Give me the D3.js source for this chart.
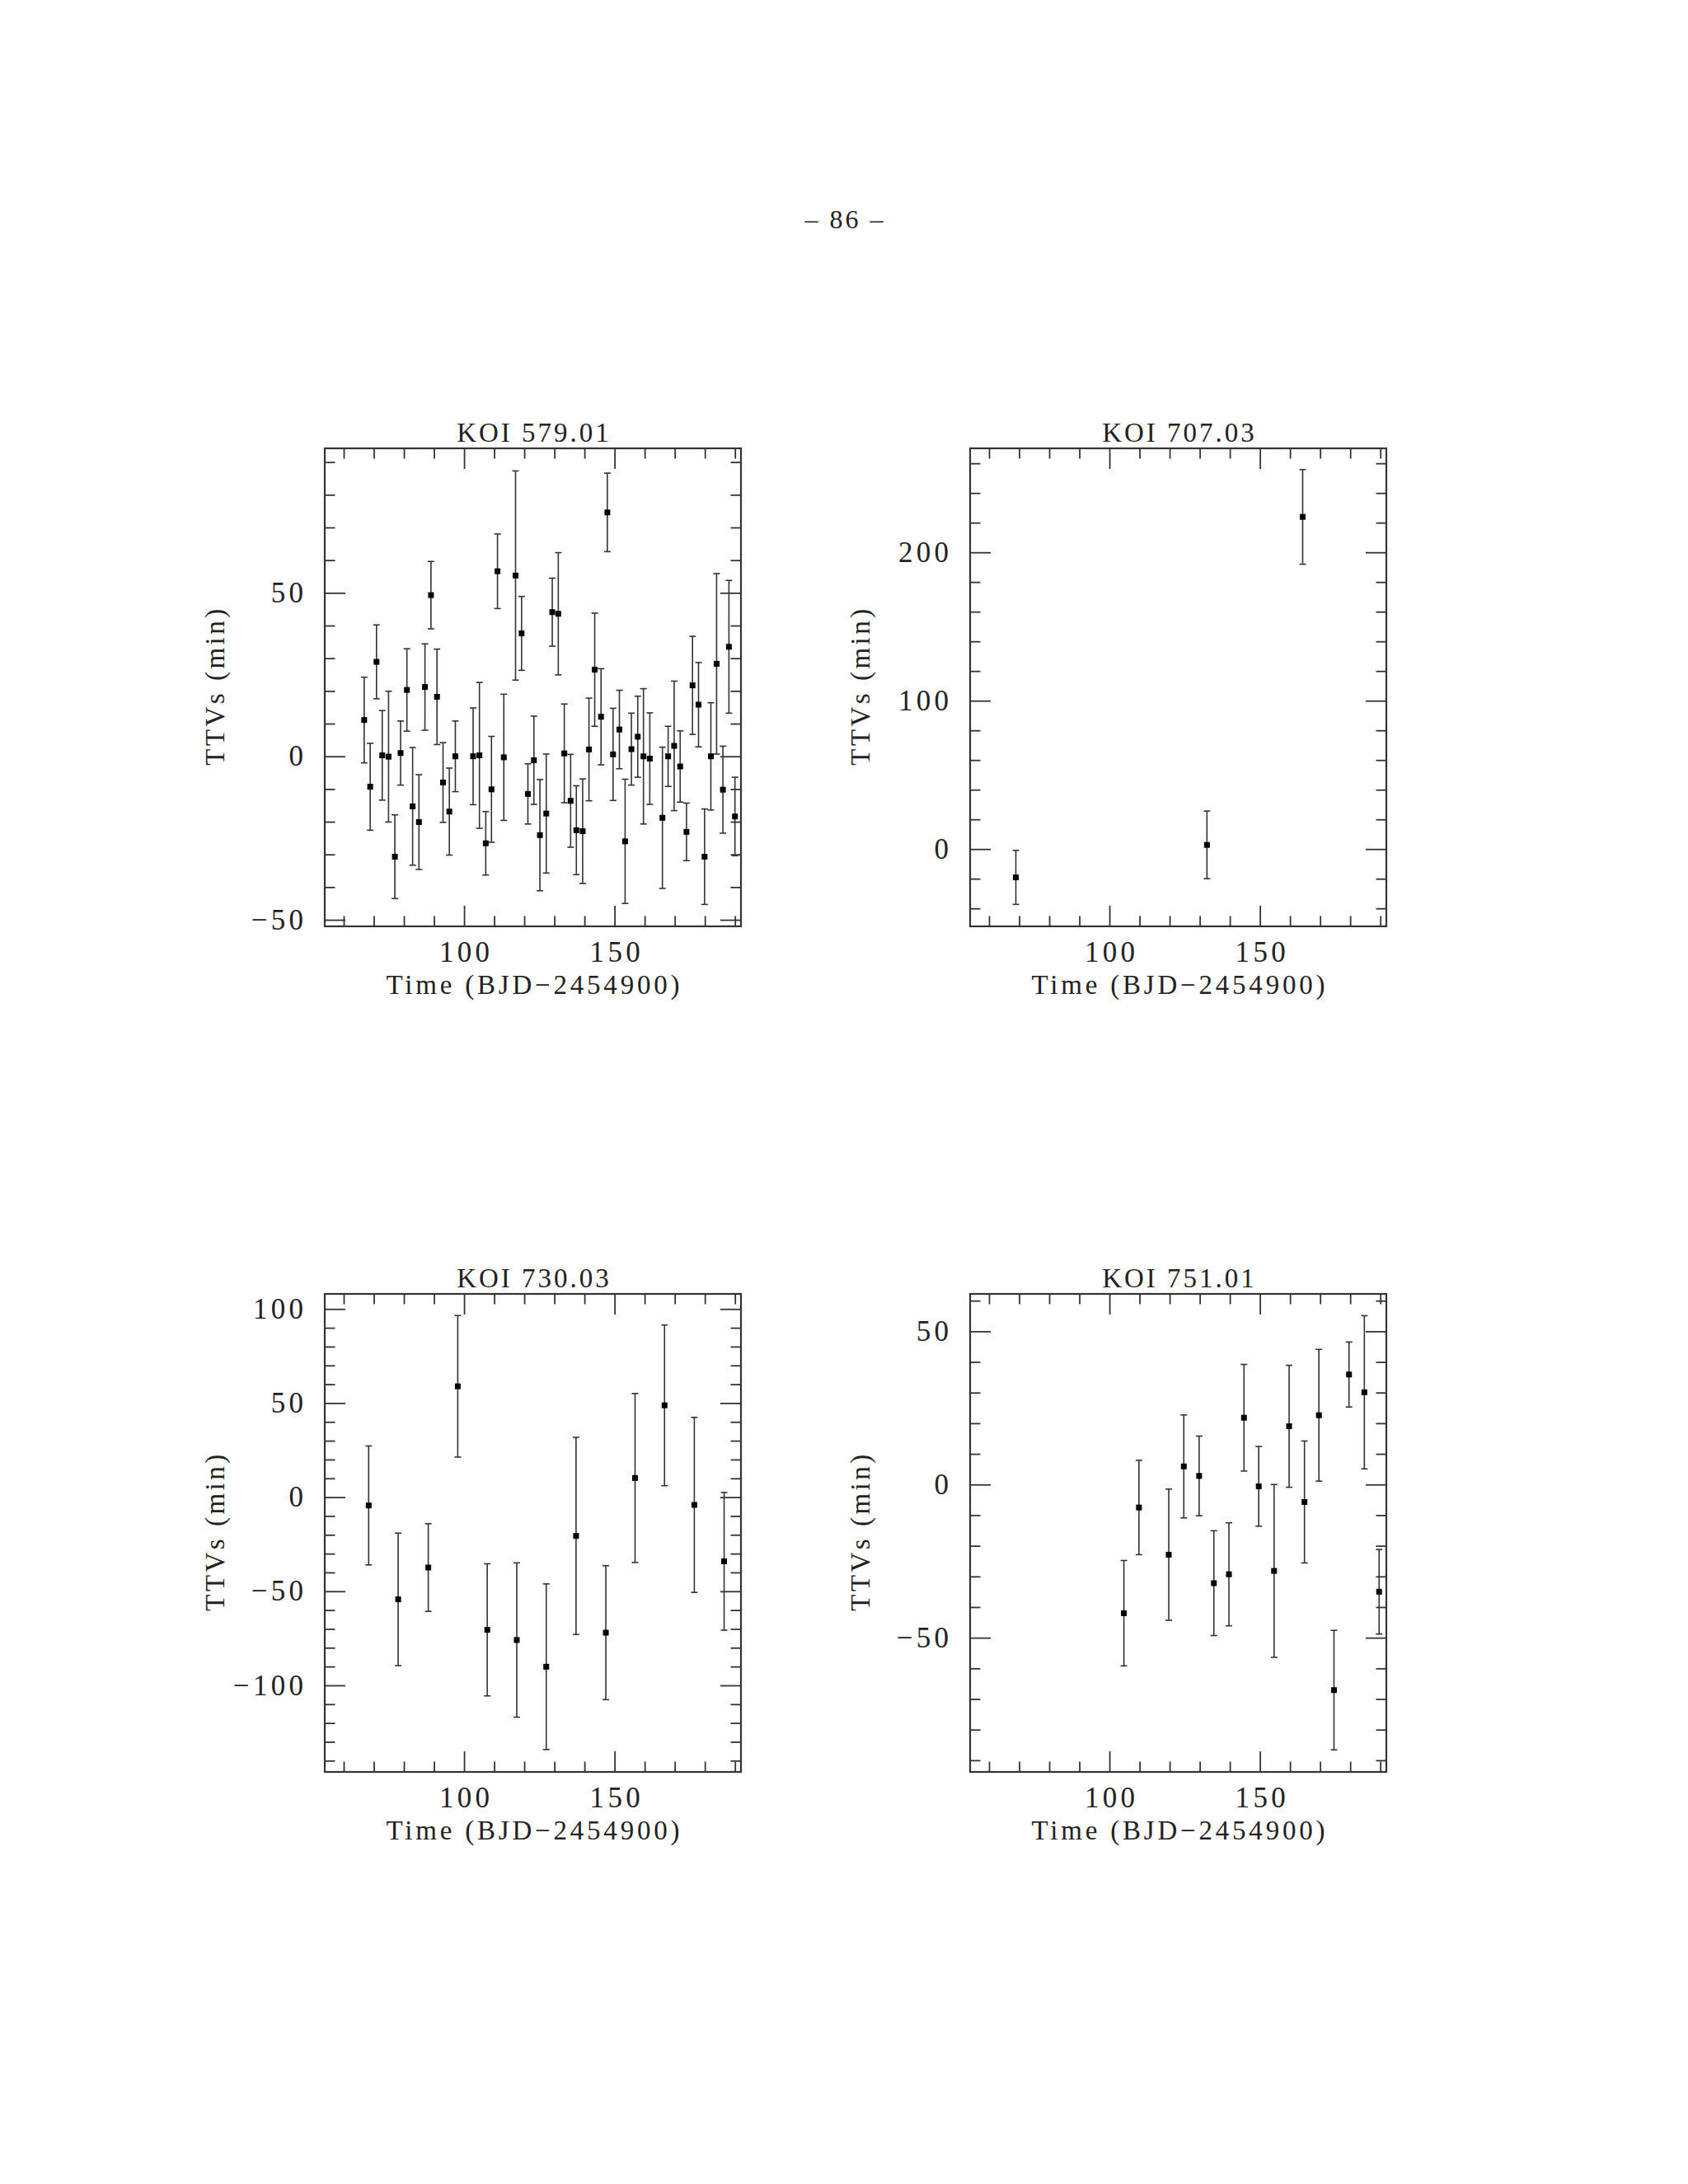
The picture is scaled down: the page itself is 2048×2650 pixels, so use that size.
<!DOCTYPE html>
<html>
<head>
<meta charset="utf-8">
<script src="https://cdn.jsdelivr.net/npm/d3@7"></script>
<style>
  body { margin: 0; background: #fff; }
  svg text { font-family: "Liberation Serif", serif; fill: #222; }
</style>
</head>
<body>
<div id="page"></div>
<script>
// KOI 579.01
const t579 = [66.8, 68.8, 70.9, 72.8, 74.9, 77.0, 78.9, 81.0, 82.9, 85.0, 87.0, 89.0, 91.0, 93.0, 95.1, 97.1,
  103.0, 105.1, 107.2, 109.1, 111.1, 113.2, 117.1, 119.1, 121.2, 123.2, 125.2, 127.3, 129.3, 131.3, 133.3,
  135.4, 137.3, 139.4, 141.5, 143.4, 145.5, 147.6, 149.5, 151.6, 153.5, 155.6, 157.7, 159.6, 161.7, 165.9,
  167.8, 169.8, 171.8, 173.9, 175.9, 177.9, 179.9, 182.0, 183.9, 186.0, 188.0, 190.0];
const ttv579 = [11.1, -9.3, 28.9, 0.3, -0.1, -30.7, 1.0, 20.3, -15.3, -20.1, 21.2, 49.3, 18.2, -8.0, -16.9, 0.0,
  0.0, 0.3, -26.6, -10.1, 56.6, -0.3, 55.3, 37.6, -11.5, -1.2, -24.1, -17.5, 44.1, 43.6, 0.9,
  -13.6, -22.6, -22.9, 2.1, 26.5, 12.1, 74.6, 0.6, 8.2, -26.0, 2.2, 6.0, 0.0, -0.7, -18.8,
  0.0, 3.2, -3.1, -23.1, 21.7, 15.8, -30.7, 0.0, 28.3, -10.2, 33.5, -18.4];
const err579 = [13.1, 13.3, 11.3, 13.7, 20.0, 12.8, 9.8, 12.6, 18.0, 14.5, 13.2, 10.3, 14.6, 12.2, 13.3, 10.8,
  14.8, 22.3, 9.7, 16.2, 11.4, 19.3, 32.0, 11.3, 9.2, 13.5, 17.0, 18.2, 10.4, 18.7, 15.1,
  14.2, 13.6, 16.0, 15.7, 17.3, 14.7, 12.0, 14.1, 12.0, 19.0, 11.0, 12.4, 20.7, 14.0, 21.6,
  9.2, 19.8, 10.9, 8.8, 15.0, 12.9, 14.6, 16.4, 27.6, 13.3, 20.3, 12.0];

// KOI 707.03
const t707 = [68.9, 132.4, 164.2];
const ttv707 = [-19.1, 2.8, 223.9];
const err707 = [18.2, 22.8, 31.9];

// KOI 730.03
const t730 = [68.3, 78.1, 88.1, 97.9, 107.7, 117.5, 127.3, 137.2, 147.1, 156.8, 166.6, 176.5, 186.4];
const ttv730 = [-4.4, -54.3, -37.4, 58.9, -70.5, -75.9, -90.1, -20.6, -72.0, 10.2, 48.8, -4.1, -34.1];
const err730 = [31.6, 35.2, 23.3, 37.6, 35.1, 41.0, 44.0, 52.4, 35.6, 44.9, 42.7, 46.5, 36.6];

// KOI 751.01
const t751 = [104.8, 109.8, 119.7, 124.7, 129.8, 134.7, 139.7, 144.7, 149.6, 154.7, 159.7, 164.8, 169.6,
  174.6, 179.6, 184.7, 189.6];
const ttv751 = [-42.0, -7.5, -22.9, 5.9, 2.8, -32.2, -29.3, 21.8, -0.6, -28.2, 19.0, -5.7, 22.6,
  -67.1, 35.9, 30.1, -35.0];
const err751 = [17.2, 15.4, 21.4, 16.8, 13.0, 17.1, 16.8, 17.4, 13.0, 28.2, 19.9, 19.9, 21.5,
  19.5, 10.6, 25.0, 13.8];

// tick labels
const xTickLabels = [100, 150];
const yTicks579 = [-50, 0, 50];
const yTicks707 = [0, 100, 200];
const yTicks730 = [-100, -50, 0, 50, 100];
const yTicks751 = [-50, 0, 50];

const titles = ["KOI 579.01", "KOI 707.03", "KOI 730.03", "KOI 751.01"];

const W = 2048, H = 2650;
const pw = 505, ph = 580;
const xDomain = [53.7, 192];
const majorLen = 25, minorLen = 12.5;
const tickFont = 35, tickSpacing = 4.3;
const labelFont = 33, labelSpacing = 3.8;

const svg = d3.select("#page").append("svg")
  .attr("width", W)
  .attr("height", H);

svg.append("rect").attr("width", W).attr("height", H).attr("fill", "#fff");

// page number
svg.append("text")
  .attr("x", 1024 + 1.5)
  .attr("y", 277)
  .attr("text-anchor", "middle")
  .style("font-size", "32px")
  .style("letter-spacing", "3px")
  .text("\u2013 86 \u2013");

const panels = [
  { x: 394, y: 544, t: t579, v: ttv579, e: err579, yDom: [-52, 94.2], yMajor: yTicks579, yStep: 10 },
  { x: 1177, y: 544, t: t707, v: ttv707, e: err707, yDom: [-52.1, 270.1], yMajor: yTicks707, yStep: 20 },
  { x: 394, y: 1570, t: t730, v: ttv730, e: err730, yDom: [-146, 108], yMajor: yTicks730, yStep: 10 },
  { x: 1177, y: 1570, t: t751, v: ttv751, e: err751, yDom: [-93.8, 62.2], yMajor: yTicks751, yStep: 10 }
];

panels.forEach(function (p, i) {
  const g = svg.append("g").attr("transform", "translate(" + p.x + "," + p.y + ")");

  const xScale = d3.scaleLinear().domain(xDomain).range([0, pw]);
  const yScale = d3.scaleLinear().domain(p.yDom).range([ph, 0]);

  const xMinor = d3.range(60, 200, 10).filter(d => xTickLabels.indexOf(d) < 0);
  const yMinor = d3.range(Math.ceil(p.yDom[0] / p.yStep) * p.yStep, p.yDom[1], p.yStep)
    .filter(d => p.yMajor.indexOf(d) < 0);

  function tickAxis(axis, scale, vals, len, tr, labels) {
    const a = axis(scale).tickValues(vals).tickSizeInner(-len).tickSizeOuter(0);
    if (labels) a.tickFormat(d3.format("d")); else a.tickFormat("");
    const ax = g.append("g").attr("transform", tr).call(a);
    ax.select(".domain").remove();
    ax.selectAll("line").attr("stroke", "#333").attr("stroke-width", 1.8);
    ax.selectAll("text")
      .style("font-family", "'Liberation Serif', serif")
      .style("font-size", tickFont + "px")
      .style("letter-spacing", tickSpacing + "px")
      .attr("fill", "#222");
    return ax;
  }

  // minor ticks
  tickAxis(d3.axisBottom, xScale, xMinor, minorLen, "translate(0," + ph + ")", false);
  tickAxis(d3.axisTop, xScale, xMinor, minorLen, "translate(0,0)", false);
  tickAxis(d3.axisLeft, yScale, yMinor, minorLen, "translate(0,0)", false);
  tickAxis(d3.axisRight, yScale, yMinor, minorLen, "translate(" + pw + ",0)", false);

  // major ticks
  tickAxis(d3.axisBottom, xScale, xTickLabels, majorLen, "translate(0," + ph + ")", true)
    .call(a => a.selectAll("text").attr("y", 43).attr("dy", null).attr("x", tickSpacing / 2));
  tickAxis(d3.axisTop, xScale, xTickLabels, majorLen, "translate(0,0)", false);
  tickAxis(d3.axisLeft, yScale, p.yMajor, majorLen, "translate(0,0)", true)
    .call(a => a.selectAll("text").attr("x", -26 + tickSpacing));
  tickAxis(d3.axisRight, yScale, p.yMajor, majorLen, "translate(" + pw + ",0)", false);

  // frame
  g.append("rect")
    .attr("width", pw)
    .attr("height", ph)
    .attr("fill", "none")
    .attr("stroke", "#333")
    .attr("stroke-width", 2.2);

  // error bars
  const pts = p.t.map((d, k) => ({ t: d, v: p.v[k], e: p.e[k] }));
  const bars = g.append("g").attr("stroke", "#333").attr("stroke-width", 1.6);
  bars.selectAll(".eb").data(pts).enter().append("line")
    .attr("x1", d => xScale(d.t)).attr("x2", d => xScale(d.t))
    .attr("y1", d => yScale(d.v - d.e)).attr("y2", d => yScale(d.v + d.e));
  bars.selectAll(".cap-top").data(pts).enter().append("line")
    .attr("x1", d => xScale(d.t) - 4).attr("x2", d => xScale(d.t) + 4)
    .attr("y1", d => yScale(d.v + d.e)).attr("y2", d => yScale(d.v + d.e));
  bars.selectAll(".cap-bot").data(pts).enter().append("line")
    .attr("x1", d => xScale(d.t) - 4).attr("x2", d => xScale(d.t) + 4)
    .attr("y1", d => yScale(d.v - d.e)).attr("y2", d => yScale(d.v - d.e));

  // markers
  g.selectAll(".pt").data(pts).enter().append("rect")
    .attr("x", d => xScale(d.t) - 3.5)
    .attr("y", d => yScale(d.v) - 3.5)
    .attr("width", 7)
    .attr("height", 7)
    .attr("fill", "#000");

  // title
  g.append("text")
    .attr("x", pw / 2 + 1.5)
    .attr("y", -8)
    .attr("text-anchor", "middle")
    .style("font-size", labelFont + "px")
    .style("letter-spacing", "3px")
    .text(titles[i]);

  // x label
  g.append("text")
    .attr("x", pw / 2 + labelSpacing / 2)
    .attr("y", ph + 82)
    .attr("text-anchor", "middle")
    .style("font-size", labelFont + "px")
    .style("letter-spacing", labelSpacing + "px")
    .text("Time (BJD\u22122454900)");

  // y label
  g.append("text")
    .attr("transform", "translate(-122," + (ph / 2 - 2) + ") rotate(-90)")
    .attr("text-anchor", "middle")
    .style("font-size", labelFont + "px")
    .style("letter-spacing", "3.5px")
    .text("TTVs (min)");
});
</script>
</body>
</html>
